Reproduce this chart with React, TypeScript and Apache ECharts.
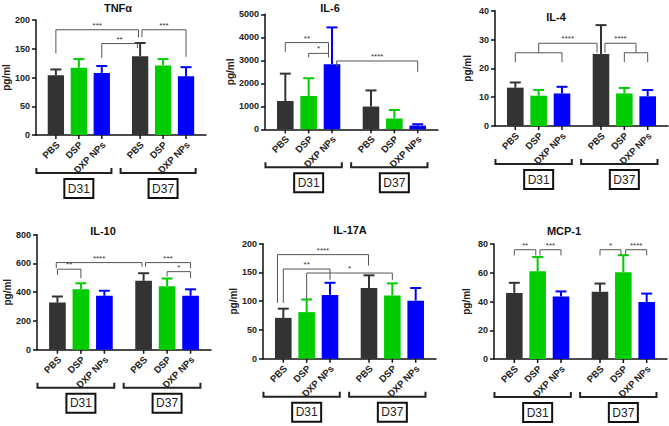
import React, { useEffect, useRef } from "react";
import * as echarts from "echarts";

// ---- categories ----
const treatments = ["PBS", "DSP", "DXP NPs"];
const days = ["D31", "D37"];
const xPositions = [0, 1, 2, 3.67, 4.67, 5.67];
const barColors = ["#333333", "#00cc00", "#0000ff"];

const titles = ["TNFα", "IL-6", "IL-4", "IL-10", "IL-17A", "MCP-1"];
const yMax = [200, 5000, 40, 800, 200, 80];
const yStep = [50, 1000, 10, 200, 50, 20];

// ---- series values (mean, upper error) ----
const tnfMean = [104, 117, 108, 137, 121, 102];
const tnfErr = [114, 132, 120, 160, 132, 118];
const il6Mean = [1230, 1450, 2830, 990, 470, 160];
const il6Err = [2420, 2220, 4430, 1690, 840, 220];
const il4Mean = [13.3, 10.5, 11.3, 25, 11.3, 10.3];
const il4Err = [15.1, 12.5, 13.6, 35, 13.2, 12.5];
const il10Mean = [328, 421, 375, 479, 442, 375];
const il10Err = [370, 462, 410, 532, 495, 420];
const il17Mean = [71, 81, 111, 123, 110, 101];
const il17Err = [87, 103, 132, 145, 131, 123];
const mcpMean = [46, 61, 43.5, 46.8, 60.3, 39.6];
const mcpErr = [53, 71, 47, 52.5, 72.2, 45.5];

// ---- significance brackets: [x1, x2, yTop, yLeftEnd, yRightEnd] ----
const tnfBrackets = [[0, 3.6, 183, 142, 170], [2, 3.55, 159, 134, 151], [3.75, 5.67, 183, 170, 136]];
const tnfSig = ["***", "**", "***"];
const il6Brackets = [[0, 1.85, 3770, 3370, 3300], [1, 1.85, 3300, 3130, 3130], [2.2, 5.67, 2970, 2720, 2500]];
const il6Sig = ["**", "*", "****"];
const il4Brackets = [[1, 3.5, 28.7, 25.4, 25.4], [0, 2, 25.4, 22.1, 22.1], [3.84, 5.17, 28.7, 25.4, 25.4], [4.67, 5.67, 25.4, 22.1, 22.1]];
const il4Sig = ["****", "", "****", ""];
const il10Brackets = [[0, 1, 560, 520, 497], [-0.05, 3.6, 606, 566, 578], [3.75, 5.67, 606, 578, 566], [4.67, 5.67, 543, 509, 497]];
const il10Sig = ["**", "****", "***", "*"];
const il17Brackets = [[-0.25, 3.65, 181, 97, 162], [0, 2, 156, 97, 137], [1, 4.67, 149, 104, 137]];
const il17Sig = ["****", "**", "*"];
const mcpBrackets = [[0, 0.92, 76, 72, 72], [1.1, 2, 76, 72, 72], [3.67, 4.57, 76, 72, 72], [4.77, 5.67, 76, 72, 72]];
const mcpSig = ["**", "***", "*", "****"];

const means = [tnfMean, il6Mean, il4Mean, il10Mean, il17Mean, mcpMean];
const errs = [tnfErr, il6Err, il4Err, il10Err, il17Err, mcpErr];
const brackets = [tnfBrackets, il6Brackets, il4Brackets, il10Brackets, il17Brackets, mcpBrackets];
const sigs = [tnfSig, il6Sig, il4Sig, il10Sig, il17Sig, mcpSig];

const layouts = [
  { left: 32, top: 20, width: 174, height: 115, tx: 118, ty: 7.5, gap: 20 },
  { left: 265, top: 14.3, width: 173, height: 115, tx: 330, ty: 7.5, gap: 25 },
  { left: 495, top: 10.7, width: 173, height: 115.3, tx: 556, ty: 16.7, gap: 23 },
  { left: 37, top: 234.7, width: 174, height: 115, tx: 103, ty: 231.3, gap: 25 },
  { left: 263, top: 243.7, width: 173, height: 115, tx: 350, ty: 230, gap: 23 },
  { left: 494, top: 244, width: 173, height: 115, tx: 564, ty: 231.3, gap: 23 },
];

const X_MIN = -0.87;
const X_MAX = 6.54;
const FONT = '"Liberation Sans", Arial, sans-serif';

function buildOption() {
  const grid: any[] = [];
  const xAxis: any[] = [];
  const yAxis: any[] = [];
  const series: any[] = [];
  const graphic: any[] = [];

  layouts.forEach((L, i) => {
    grid.push({ left: L.left, top: L.top, width: L.width, height: L.height, containLabel: false });
    xAxis.push({
      gridIndex: i, type: "value", min: X_MIN, max: X_MAX,
      axisLine: { show: true, onZero: false, lineStyle: { color: "#111", width: 1.5 } },
      axisTick: { show: false }, axisLabel: { show: false }, splitLine: { show: false },
    });
    yAxis.push({
      gridIndex: i, type: "value", min: 0, max: yMax[i], interval: yStep[i],
      name: "pg/ml", nameLocation: "middle", nameGap: L.gap, nameRotate: 90,
      nameTextStyle: { fontSize: 10, fontWeight: "bold", color: "#222", fontFamily: FONT },
      axisLine: { show: true, onZero: false, lineStyle: { color: "#111", width: 1.5 } },
      axisTick: { show: true, length: 4, lineStyle: { color: "#111", width: 1.5 } },
      axisLabel: { fontSize: 9, fontWeight: "bold", color: "#222", margin: 6, fontFamily: FONT, formatter: (v: number) => String(v) },
      splitLine: { show: false },
    });

    graphic.push({
      type: "text", x: L.tx, y: L.ty,
      style: { text: titles[i], fontSize: 11, fontWeight: "bold", fill: "#111", fontFamily: FONT, align: "center", verticalAlign: "middle" },
    });

    // bars + error bars
    series.push({
      type: "custom", xAxisIndex: i, yAxisIndex: i, clip: false, silent: true, z: 2,
      data: xPositions.map((x, k) => [x, means[i][k], errs[i][k]]),
      renderItem: (params: any, api: any) => {
        const x = api.value(0), m = api.value(1), e = api.value(2);
        const color = barColors[params.dataIndex % 3];
        const base = api.coord([x, 0]);
        const top = api.coord([x, m]);
        const et = api.coord([x, e]);
        const w = api.size([0.71, 0])[0];
        return {
          type: "group",
          children: [
            { type: "rect", shape: { x: base[0] - w / 2, y: top[1], width: w, height: base[1] - top[1] }, style: { fill: color } },
            { type: "line", shape: { x1: top[0], y1: top[1], x2: et[0], y2: et[1] }, style: { stroke: color, lineWidth: 2 } },
            { type: "line", shape: { x1: et[0] - 5.5, y1: et[1], x2: et[0] + 5.5, y2: et[1] }, style: { stroke: color, lineWidth: 2 } },
          ],
        };
      },
    });

    // significance brackets
    const labs = sigs[i];
    series.push({
      type: "custom", xAxisIndex: i, yAxisIndex: i, clip: false, silent: true, z: 3,
      data: brackets[i],
      renderItem: (params: any, api: any) => {
        const x1 = api.value(0), x2 = api.value(1), yt = api.value(2), ya = api.value(3), yb = api.value(4);
        const p1 = api.coord([x1, ya]);
        const p2 = api.coord([x1, yt]);
        const p3 = api.coord([x2, yt]);
        const p4 = api.coord([x2, yb]);
        const children: any[] = [
          { type: "polyline", shape: { points: [p1, p2, p3, p4] }, style: { stroke: "#555", lineWidth: 1, fill: null } },
        ];
        const t = labs[params.dataIndex];
        if (t) {
          children.push({
            type: "text", x: (p2[0] + p3[0]) / 2, y: p2[1] - 0.5,
            style: { text: t, fontSize: 8, fill: "#333", fontFamily: FONT, align: "center", verticalAlign: "bottom" },
          });
        }
        return { type: "group", children };
      },
    });

    // x ticks + rotated labels
    series.push({
      type: "custom", xAxisIndex: i, yAxisIndex: i, clip: false, silent: true, z: 3,
      data: xPositions.map((x) => [x, 0]),
      renderItem: (params: any, api: any) => {
        const p = api.coord([api.value(0), 0]);
        return {
          type: "group",
          children: [
            { type: "line", shape: { x1: p[0], y1: p[1], x2: p[0], y2: p[1] + 4 }, style: { stroke: "#111", lineWidth: 1.5 } },
            {
              type: "text", x: p[0] + 2, y: p[1] + 8, rotation: Math.PI / 4,
              style: { text: treatments[params.dataIndex % 3], fontSize: 9.5, fontWeight: "bold", fill: "#222", fontFamily: FONT, align: "right", verticalAlign: "middle" },
            },
          ],
        };
      },
    });

    // group brackets + day boxes
    series.push({
      type: "custom", xAxisIndex: i, yAxisIndex: i, clip: false, silent: true, z: 3,
      data: days.map((_, g) => [xPositions[g * 3], xPositions[g * 3 + 2], xPositions[g * 3 + 1]]),
      renderItem: (params: any, api: any) => {
        const a = api.coord([api.value(0) - 0.85, 0]);
        const b = api.coord([api.value(1) + 0.42, 0]);
        const c = api.coord([api.value(2), 0]);
        const yb = a[1] + 38;
        return {
          type: "group",
          children: [
            { type: "polyline", shape: { points: [[a[0], yb - 5], [a[0], yb], [b[0], yb], [b[0], yb - 5]] }, style: { stroke: "#222", lineWidth: 2, fill: null } },
            { type: "rect", shape: { x: c[0] - 14.5, y: a[1] + 44, width: 29, height: 19 }, style: { fill: "#fff", stroke: "#111", lineWidth: 2 } },
            {
              type: "text", x: c[0], y: a[1] + 53.5,
              style: { text: days[params.dataIndex], fontSize: 12, fill: "#222", fontFamily: FONT, align: "center", verticalAlign: "middle" },
            },
          ],
        };
      },
    });
  });

  return { animation: false, backgroundColor: "#fff", grid, xAxis, yAxis, series, graphic };
}

export default function App() {
  const ref = useRef<HTMLDivElement>(null);
  useEffect(() => {
    document.body.style.margin = "0";
    if (!ref.current) return;
    const chart = echarts.init(ref.current, undefined, { renderer: "svg" });
    chart.setOption(buildOption() as any);
    return () => chart.dispose();
  }, []);
  return <div ref={ref} style={{ width: 669, height: 426 }} />;
}
